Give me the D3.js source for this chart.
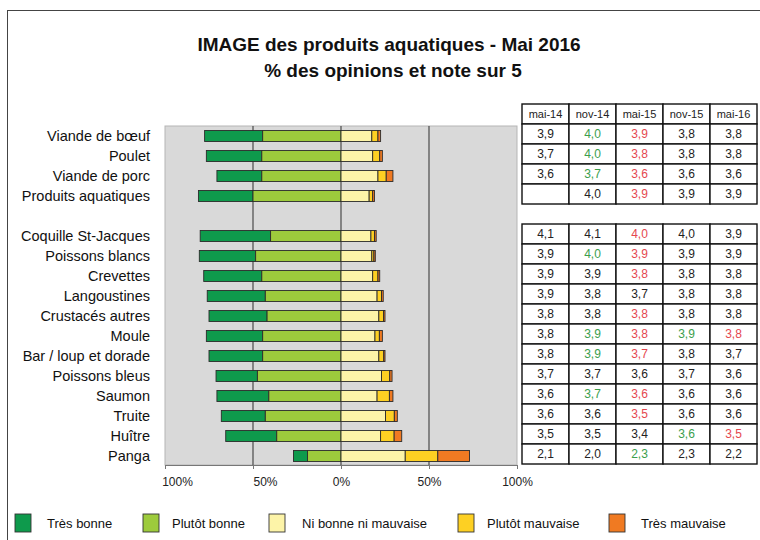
<!DOCTYPE html>
<html>
<head>
<meta charset="utf-8">
<script src="https://cdn.jsdelivr.net/npm/d3@7/dist/d3.min.js"></script>
<style>
  body { margin: 0; background: #fff; }
  svg { font-family: "Liberation Sans", Arial, sans-serif; }
</style>
</head>
<body>
<svg id="chart" width="760" height="540"></svg>
<script>
// produits (un espace vide entre les viandes et les produits aquatiques)
const produits = ["Viande de bœuf", "Poulet", "Viande de porc", "Produits aquatiques", "",
  "Coquille St-Jacques", "Poissons blancs", "Crevettes", "Langoustines", "Crustacés autres",
  "Moule", "Bar / loup et dorade", "Poissons bleus", "Saumon", "Truite", "Huître", "Panga"];

// % des opinions
const tresBonne      = [33, 31.5, 25.5, 31, null, 40, 32, 33, 33, 33, 32, 30.5, 23.5, 29.5, 25, 29, 8];
const plutotBonne    = [44.5, 45, 45, 50, null, 40, 48.5, 45, 43, 42, 44.5, 44.5, 47.5, 41, 43, 36.5, 19];
const niBonneNiMauv  = [17.5, 18, 21, 16, null, 17, 17.5, 18, 20.5, 21.5, 19.3, 21.5, 23, 20.5, 25.3, 22.5, 36.5];
const plutotMauvaise = [3.5, 4, 4.7, 2, null, 2, 1.2, 3, 2.5, 2.7, 2.5, 2.8, 4.7, 7, 5, 7.7, 18.5];
const tresMauvaise   = [1.5, 1.5, 3.8, 1, null, 1, 0.8, 1, 1, 0.8, 1.7, 0.7, 1.3, 2, 1.7, 4.3, 18];

const seriesNames = ["Très bonne", "Plutôt bonne", "Ni bonne ni mauvaise", "Plutôt mauvaise", "Très mauvaise"];
const seriesColors = ["#0e9a4c", "#9dcb3c", "#fdf4a8", "#fdd023", "#f07a22"];

// notes sur 5
const vagues = ["mai-14", "nov-14", "mai-15", "nov-15", "mai-16"];
const noteMai14 = [3.9, 3.7, 3.6, null, null, 4.1, 3.9, 3.9, 3.9, 3.8, 3.8, 3.8, 3.7, 3.6, 3.6, 3.5, 2.1];
const noteNov14 = [4.0, 4.0, 3.7, 4.0, null, 4.1, 4.0, 3.9, 3.8, 3.8, 3.9, 3.9, 3.7, 3.7, 3.6, 3.5, 2.0];
const noteMai15 = [3.9, 3.8, 3.6, 3.9, null, 4.0, 3.9, 3.8, 3.7, 3.8, 3.8, 3.7, 3.6, 3.6, 3.5, 3.4, 2.3];
const noteNov15 = [3.8, 3.8, 3.6, 3.9, null, 4.0, 3.9, 3.8, 3.8, 3.8, 3.9, 3.8, 3.7, 3.6, 3.6, 3.6, 2.3];
const noteMai16 = [3.8, 3.8, 3.6, 3.9, null, 3.9, 3.9, 3.8, 3.8, 3.8, 3.8, 3.7, 3.6, 3.6, 3.6, 3.5, 2.2];
// evolution significative : 1 hausse, -1 baisse, 0 stable
const evolMai14 = [0, 0, 0, 0, 0, 0, 0, 0, 0, 0, 0, 0, 0, 0, 0, 0, 0];
const evolNov14 = [1, 1, 1, 0, 0, 0, 1, 0, 0, 0, 1, 1, 0, 1, 0, 0, 0];
const evolMai15 = [-1, -1, -1, -1, 0, -1, -1, -1, 0, -1, -1, -1, 0, -1, -1, 0, 1];
const evolNov15 = [0, 0, 0, 0, 0, 0, 0, 0, 0, 0, 1, 0, 0, 0, 0, 1, 0];
const evolMai16 = [0, 0, 0, 0, 0, 0, 0, 0, 0, 0, -1, 0, 0, 0, 0, -1, 0];

const notes = [noteMai14, noteNov14, noteMai15, noteNov15, noteMai16];
const evols = [evolMai14, evolNov14, evolMai15, evolNov15, evolMai16];

const svg = d3.select("#chart");

// cadre
svg.append("rect").attr("x", 7.5).attr("y", 10.5).attr("width", 770).attr("height", 560)
  .attr("fill", "none").attr("stroke", "#444").attr("stroke-width", 1);

// titre
svg.append("text").attr("x", 389).attr("y", 51).attr("text-anchor", "middle")
  .attr("font-size", 19).attr("font-weight", "bold").attr("fill", "#111")
  .text("IMAGE des produits aquatiques - Mai 2016");
svg.append("text").attr("x", 393).attr("y", 77).attr("text-anchor", "middle")
  .attr("font-size", 19).attr("font-weight", "bold").attr("fill", "#111")
  .text("% des opinions et note sur 5");

const plot = {left: 165, right: 517, top: 126, bottom: 466};

const x = d3.scaleLinear().domain([-100, 100]).range([plot.left, plot.right]);
const y = d3.scaleBand().domain(d3.range(produits.length))
  .range([plot.top, plot.bottom]).paddingInner(0.45).paddingOuter(0.225);

// fond gris
svg.append("rect").attr("x", plot.left).attr("y", plot.top)
  .attr("width", plot.right - plot.left).attr("height", plot.bottom - plot.top - 1)
  .attr("fill", "#d9d9d9").attr("stroke", "#b5b5b5");

// lignes verticales
svg.append("g").selectAll("line").data([-50, 0, 50]).enter().append("line")
  .attr("x1", d => x(d)).attr("x2", d => x(d))
  .attr("y1", plot.top).attr("y2", plot.bottom - 1)
  .attr("stroke", "#555").attr("stroke-width", 1.3);

// axe
const xAxis = d3.axisBottom(x).tickValues([-100, -50, 0, 50, 100])
  .tickFormat(d => Math.abs(d) + "%").tickSize(4).tickPadding(8);
const gx = svg.append("g").attr("transform", `translate(0,${plot.bottom - 1})`).call(xAxis);
gx.select(".domain").attr("stroke", "#777");
gx.selectAll(".tick line").attr("stroke", "#777");
gx.selectAll(".tick text").attr("font-size", 12).attr("fill", "#222")
  .attr("font-family", "Liberation Sans, Arial, sans-serif")
  .attr("dx", d => d < 0 ? 12 : 0);

// donnees empilees
const segments = [];
produits.forEach((p, i) => {
  if (!p) return;
  const tb = tresBonne[i], pb = plutotBonne[i];
  let start = -(tb + pb);
  [tb, pb].forEach((v, k) => { segments.push({i, k, x0: start, x1: start + v}); start += v; });
  start = 0;
  [niBonneNiMauv[i], plutotMauvaise[i], tresMauvaise[i]].forEach((v, k) => {
    segments.push({i, k: k + 2, x0: start, x1: start + v}); start += v;
  });
});

svg.append("g").selectAll("rect").data(segments).enter().append("rect")
  .attr("x", d => x(d.x0))
  .attr("y", d => y(d.i))
  .attr("width", d => x(d.x1) - x(d.x0))
  .attr("height", y.bandwidth())
  .attr("fill", d => seriesColors[d.k])
  .attr("stroke", "#2b2b2b").attr("stroke-width", 0.9);

// libelles
svg.append("g").selectAll("text").data(produits.map((p, i) => ({p, i})).filter(d => d.p))
  .enter().append("text")
  .attr("x", 150).attr("y", d => y(d.i) + y.bandwidth() / 2)
  .attr("dy", "0.35em").attr("text-anchor", "end")
  .attr("font-size", 14.5).attr("fill", "#111")
  .text(d => d.p);

// tableau des notes
const col = d3.scaleBand().domain(vagues).range([522, 757]);
const rowY = i => y(i) + y.bandwidth() / 2 - 12;
const table = svg.append("g");
const fmt = v => v == null ? "" : v.toFixed(1).replace(".", ",");

// entete
vagues.forEach(v => {
  table.append("rect").attr("x", col(v)).attr("y", rowY(0) - 20)
    .attr("width", col.bandwidth()).attr("height", 20)
    .attr("fill", "#fff").attr("stroke", "#111").attr("stroke-width", 1.4);
  table.append("text").attr("x", col(v) + col.bandwidth() / 2).attr("y", rowY(0) - 10)
    .attr("dy", "0.35em").attr("text-anchor", "middle").attr("font-size", 11).attr("fill", "#222")
    .text(v);
});

produits.forEach((p, i) => {
  if (!p) return;
  vagues.forEach((v, c) => {
    table.append("rect").attr("x", col(v)).attr("y", rowY(i))
      .attr("width", col.bandwidth()).attr("height", 20)
      .attr("fill", "#fff").attr("stroke", "#111").attr("stroke-width", 1.4);
    const e = evols[c][i];
    table.append("text").attr("x", col(v) + col.bandwidth() / 2).attr("y", rowY(i) + 10)
      .attr("dy", "0.35em").attr("text-anchor", "middle").attr("font-size", 12)
      .attr("fill", e > 0 ? "#3a9e4c" : e < 0 ? "#e5474f" : "#222")
      .text(fmt(notes[c][i]));
  });
});

// legende
const legX = [15, 143, 269, 458, 609];
const legTx = [47, 172, 302, 487, 641];
const leg = svg.append("g");
seriesNames.forEach((n, k) => {
  leg.append("rect").attr("x", legX[k]).attr("y", 514).attr("width", 16).attr("height", 18)
    .attr("fill", seriesColors[k]).attr("stroke", "#333").attr("stroke-width", 0.9);
  leg.append("text").attr("x", legTx[k]).attr("y", 523).attr("dy", "0.35em")
    .attr("font-size", 13).attr("fill", "#111").text(n);
});
</script>
</body>
</html>
